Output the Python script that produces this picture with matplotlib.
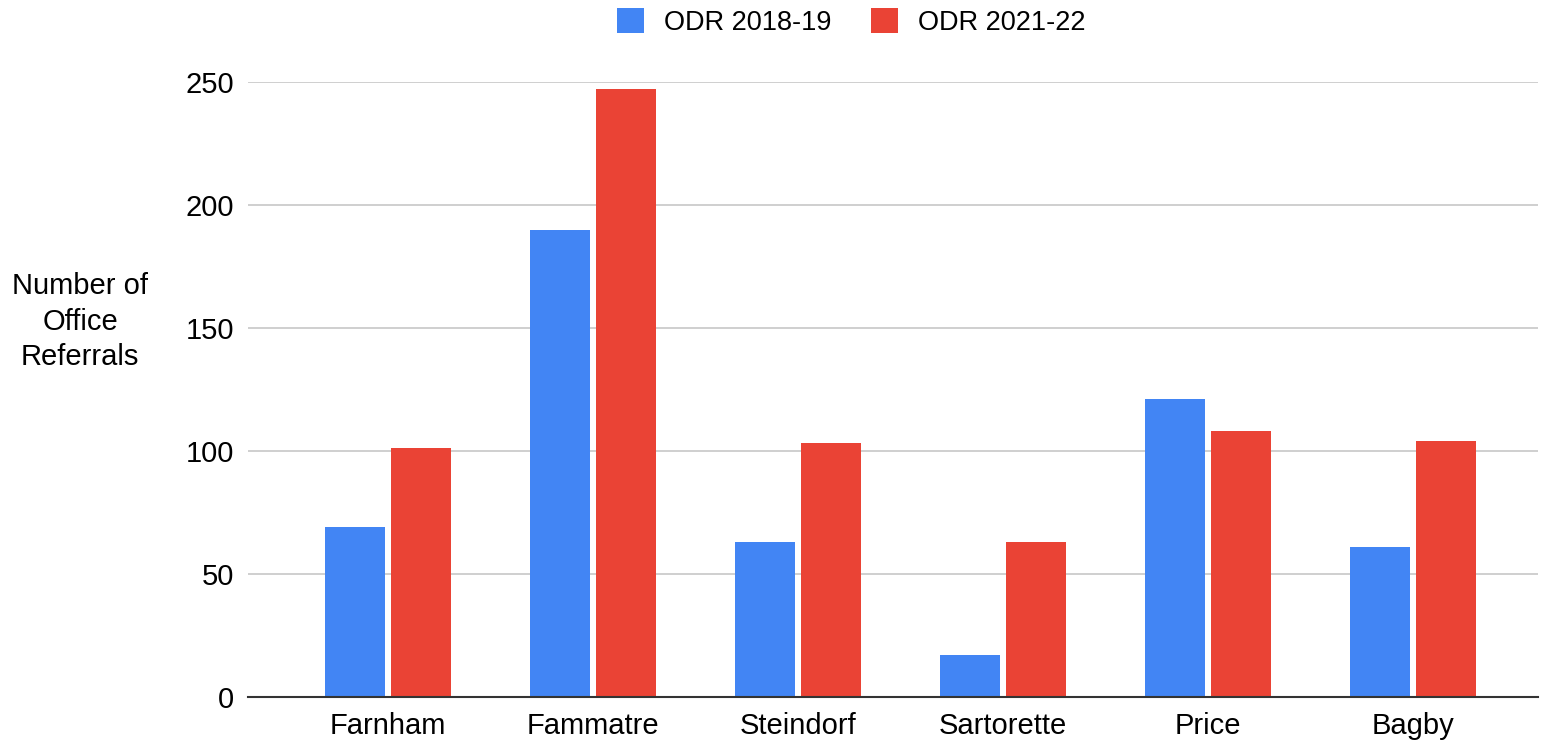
import matplotlib

matplotlib.use("Agg")

import matplotlib.pyplot as plt
import numpy as np
from matplotlib.patches import Patch

# values
schools = ["Farnham", "Fammatre", "Steindorf", "Sartorette", "Price", "Bagby"]
odr_2018_19 = [69, 190, 63, 17, 121, 61]
odr_2021_22 = [101, 247, 103, 63, 108, 104]
series_names = ["ODR 2018-19", "ODR 2021-22"]
y_ticks = [0, 50, 100, 150, 200, 250]

BLUE = "#4285F4"
RED = "#EA4335"

plt.rcParams["font.family"] = ["Liberation Sans", "DejaVu Sans"]
FS = 21

fig = plt.figure(figsize=(15.48, 7.41), dpi=100)
ax = fig.add_axes([248 / 1548, 1 - 696.7 / 741, 1290 / 1548, (696.7 - 82) / 741])

x = np.arange(len(schools))
w = 0.293
off = 0.161
ax.bar(x - off, odr_2018_19, width=w, color=BLUE, zorder=3)
ax.bar(x + off, odr_2021_22, width=w, color=RED, zorder=3)

ax.set_xlim(-0.683, len(schools) - 1 + 0.61)
ax.set_ylim(0, 250)
ax.set_yticks(y_ticks)
ax.set_xticks(x)
ax.set_xticklabels(schools, fontsize=FS)
ax.tick_params(axis="y", labelsize=FS, length=0, pad=10)
ax.tick_params(axis="x", length=0, pad=11)

ax.grid(axis="y", color="#cccccc", linewidth=1.3, zorder=0)
for side in ["top", "right", "left"]:
    ax.spines[side].set_visible(False)
ax.spines["bottom"].set_color("#333333")
ax.spines["bottom"].set_linewidth(1.5)
ax.spines["bottom"].set_zorder(4)

ax.set_ylabel("Number of\nOffice\nReferrals", rotation=0, fontsize=FS,
              ha="center", va="center", linespacing=1.35)
ax.yaxis.set_label_coords(-0.130, 0.61)

handles = [Patch(facecolor=BLUE, edgecolor="none"),
           Patch(facecolor=RED, edgecolor="none")]
fig.legend(handles, series_names, loc="center", bbox_to_anchor=(851 / 1548, 1 - 22 / 741),
           ncol=2, frameon=False, fontsize=19.5, handlelength=1.0, handleheight=1.0,
           handletextpad=0.75, columnspacing=1.45)

fig.savefig("out.png", dpi=100)
plt.close(fig)
